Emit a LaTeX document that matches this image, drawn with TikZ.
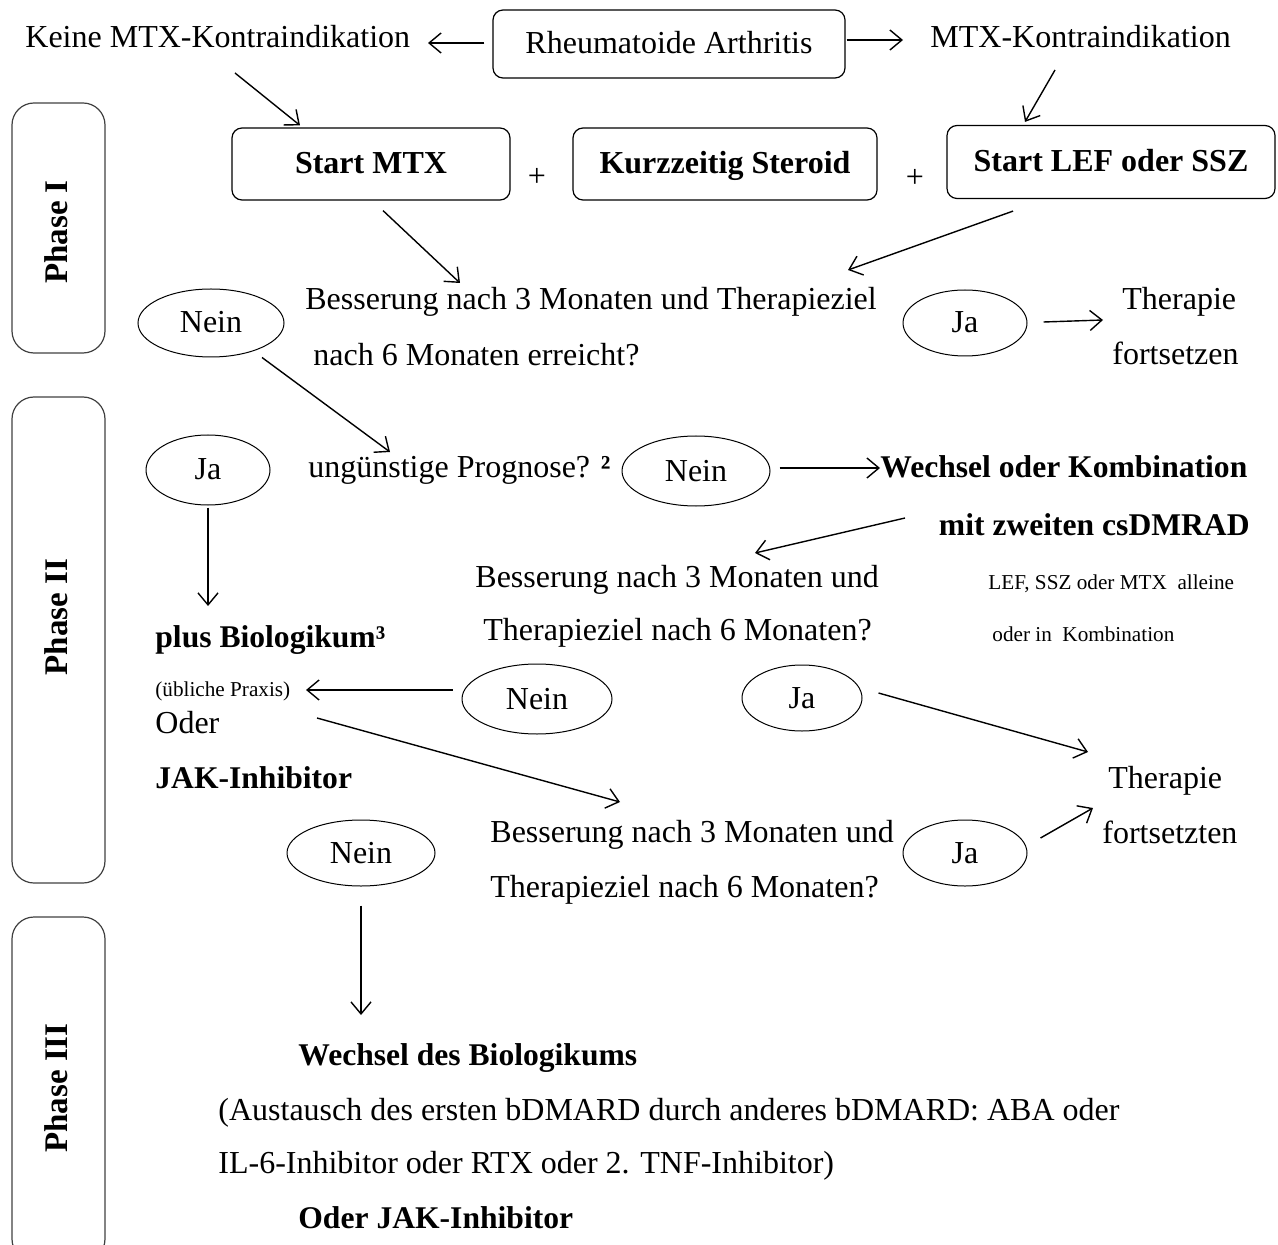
\documentclass[tikz,border=0pt]{standalone}
\usepackage{fontspec}
\setmainfont{Liberation Serif}
\usetikzlibrary{shapes.geometric,arrows.meta,calc}
\begin{document}
\begin{tikzpicture}[x=0.5pt,y=-0.5pt,
  fixh/.style={text height=12pt, text depth=2pt},
  txt/.style={inner sep=0pt, fixh, font=\fontsize{16}{18}\selectfont, anchor=west},
  btxt/.style={inner sep=0pt, fixh, font=\fontsize{15.8}{18}\selectfont\bfseries, anchor=west},
  stxt/.style={inner sep=0pt, text height=8pt, text depth=1.5pt, font=\fontsize{10.6}{12}\selectfont, anchor=west},
  rbox/.style={draw, rounded corners=5pt, line width=0.6pt, inner sep=0pt, fixh},
  oval/.style={draw, ellipse, line width=0.5pt, inner sep=0pt, fixh, font=\fontsize{16}{18}\selectfont},
  phasebox/.style={draw=black!75, rounded corners=11pt, line width=0.6pt, inner sep=0pt},
  phasetxt/.style={rotate=90, inner sep=0pt, font=\fontsize{16.5}{18}\selectfont\bfseries},
  arr/.style={->, line width=0.7pt},
  >={Straight Barb[length=6pt,width=10pt]}
]
\useasboundingbox (0,0) rectangle (1278,1245);
\begin{scope}
\clip (0,0) rectangle (1278,1245);
% phase boxes
\node[phasebox, minimum width=46.5pt, minimum height=125pt] (ph1) at (58.5,228) {};
\node[phasetxt] (ph1t) at (56,232) {Phase I};
\node[phasebox, minimum width=46.5pt, minimum height=243pt] (ph2) at (58.5,640) {};
\node[phasetxt] (ph2t) at (56,617) {Phase II};
\node[phasebox, minimum width=46.5pt, minimum height=172pt] (ph3) at (58.5,1089) {};
\node[phasetxt] (ph3t) at (56,1088) {Phase III};
\end{scope}

% top row
\node[txt] (keine) at (25,38) {Keine MTX-Kontraindikation};
\node[rbox, minimum width=176pt, minimum height=34pt, font=\fontsize{16}{18}\selectfont] (ra) at (669,44) {Rheumatoide Arthritis};
\node[txt] (mtxk) at (930,38) {MTX-Kontraindikation};

% boxes
\node[rbox, minimum width=139pt, minimum height=36pt, font=\fontsize{16}{18}\selectfont\bfseries] (mtx) at (371,164) {Start MTX};
\node[txt, anchor=center] (plus1) at (537,177) {+};
\node[rbox, minimum width=152pt, minimum height=36pt, font=\fontsize{16}{18}\selectfont\bfseries] (ster) at (725,164) {Kurzzeitig Steroid};
\node[txt, anchor=center] (plus2) at (915,178) {+};
\node[rbox, minimum width=164pt, minimum height=36.5pt, font=\fontsize{16}{18}\selectfont\bfseries] (lef) at (1111,162) {Start LEF oder SSZ};

% question 1
\node[txt] (q1a) at (305,300) {Besserung nach 3 Monaten und Therapieziel};
\node[txt] (q1b) at (313,356) {nach 6 Monaten erreicht?};
\node[oval, minimum width=73pt, minimum height=34pt] (nein1) at (211,323) {Nein};
\node[oval, minimum width=62pt, minimum height=33pt] (ja1) at (965,323) {Ja};
\node[txt] (ther1a) at (1122,300) {Therapie};
\node[txt] (ther1b) at (1112,355) {fortsetzen};

% phase II
\node[oval, minimum width=62pt, minimum height=35pt] (ja2) at (208,470) {Ja};
\node[txt] (prog) at (308,467) {ungünstige Prognose? \textbf{²}};
\node[oval, minimum width=74pt, minimum height=35pt] (nein2) at (696,471) {Nein};
\node[btxt] (wech1) at (880,467) {Wechsel oder Kombination};
\node[btxt, anchor=east] (wech2) at (1250,525) {mit zweiten csDMRAD};
\node[txt] (q2a) at (475,577) {Besserung nach 3 Monaten und};
\node[txt] (q2b) at (483,630) {Therapieziel nach 6 Monaten?};
\node[stxt] (small1) at (988,583) {LEF, SSZ oder MTX\ \ alleine};
\node[stxt] (small2) at (992,635) {oder in\ \ Kombination};

\node[btxt] (bio) at (155,637) {plus Biologikum³};
\node[stxt] (prax) at (155,690) {(übliche Praxis)};
\node[txt] (oder) at (155,723) {Oder};
\node[btxt] (jak) at (155,778) {JAK-Inhibitor};

\node[oval, minimum width=75pt, minimum height=35pt] (nein3) at (537,699) {Nein};
\node[oval, minimum width=60pt, minimum height=33pt] (ja3) at (802,698) {Ja};
\node[txt] (ther2a) at (1108,778) {Therapie};
\node[txt] (ther2b) at (1102,833) {fortsetzten};

\node[txt] (q3a) at (490,832) {Besserung nach 3 Monaten und};
\node[txt] (q3b) at (490,887) {Therapieziel nach 6 Monaten?};
\node[oval, minimum width=74pt, minimum height=33pt] (nein4) at (361,853) {Nein};
\node[oval, minimum width=62pt, minimum height=33pt] (ja4) at (965,853) {Ja};

% phase III
\node[btxt] (p3a) at (298,1055) {Wechsel des Biologikums};
\node[txt] (p3b) at (218,1110) {(Austausch des ersten bDMARD durch anderes bDMARD: ABA oder};
\node[txt] (p3c) at (218,1163) {IL-6-Inhibitor oder RTX oder 2. TNF-Inhibitor)};
\node[btxt] (p3d) at (298,1218) {Oder JAK-Inhibitor};

% arrows
\draw[arr] ($(ra.west)+(-8,-1)$) -- ($(keine.west)+(403,5)$);
\draw[arr] ($(ra.east)+(1,-4)$) -- ($(mtxk.west)+(-27,2)$);
\draw[arr] ($(keine.west)+(210,35)$) -- ($(mtx.north)+(-71,-2)$);
\draw[arr] ($(mtxk.west)+(125,32)$) -- ($(lef.north)+(-86,-3)$);
\draw[arr] ($(mtx.south)+(12,10)$) -- ($(q1a.west)+(155,-17)$);
\draw[arr] ($(lef.south)+(-98,12)$) -- ($(q1a.west)+(543,-30)$);
\draw[arr] ($(ja1.east)+(16,-1)$) -- ($(ther1a.west)+(-19,20)$);
\draw[arr] ($(nein1.south)+(51,0)$) -- ($(prog.west)+(82,-15)$);
\draw[arr] ($(nein2.east)+(9,-3)$) -- ($(wech1.west)+(0,1)$);
\draw[arr] ($(wech2.east)+(-345,-7)$) -- ($(q2a.west)+(280,-24)$);
\draw[arr] ($(ja2.south)+(0,2)$) -- ($(bio.west)+(53,-31)$);
\draw[arr] ($(nein3.west)+(-9,-9)$) -- ($(prax.west)+(151,0)$);
\draw[arr] ($(ja3.east)+(16,-5)$) -- ($(ther2a.west)+(-20,-26)$);
\draw[arr] ($(oder.west)+(162,-5)$) -- ($(q3a.west)+(130,-30)$);
\draw[arr] ($(ja4.east)+(13,-15)$) -- ($(ther2b.west)+(-9,-25)$);
\draw[arr] ($(nein4.south)+(0,19)$) -- ($(p3a.west)+(63,-40)$);
\end{tikzpicture}
\end{document}
